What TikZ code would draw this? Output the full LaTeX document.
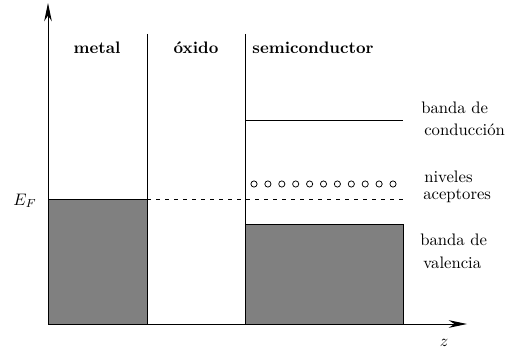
\documentclass[tikz,border=0pt]{standalone}
\usetikzlibrary{arrows.meta}
\begin{document}
\begin{tikzpicture}[x=0.6pt, y=-0.6pt,
  axis/.style={line width=0.6pt, -{Stealth[length=11pt, width=4.6pt, inset=3.5pt]}},
  wall/.style={line width=0.6pt},
  band/.style={line width=0.6pt, draw=black, fill=gray},
  level/.style={line width=0.6pt},
  fermi/.style={line width=0.6pt, dash pattern=on 2.6pt off 2.8pt},
  acceptor/.style={line width=0.45pt},
  region/.style={font=\bfseries},
  lbl/.style={anchor=west, inner sep=0pt}]
  \useasboundingbox (0,0) rectangle (518,352);

  % axes
  \coordinate (O) at (48,324);
  \coordinate (ytip) at (48,3);
  \coordinate (xtip) at (467,324);

  % metal: filled up to the Fermi level
  \fill[gray] (48,200) rectangle (147,324);
  \draw[line width=0.6pt] (48,200) -- (147,200);

  % interfaces metal/oxide and oxide/semiconductor
  \draw[wall] (147,34) -- (147,324);
  \draw[wall] (245,34) -- (245,324);

  % semiconductor bands
  \draw[band] (245,225) rectangle (403,324);
  \draw[level] (245,121) -- (403,121);

  % Fermi level across oxide and semiconductor
  \draw[fermi] (147,200) -- (403,200);

  % acceptor levels
  \foreach \i in {0,...,10}
    \draw[acceptor] ({254+13.9*\i},184) circle[radius=3.1];

  \draw[axis] (O) -- (ytip);
  \draw[axis] (O) -- (xtip);

  % region titles
  \node[region] (tmetal) at (97,48) {metal};
  \node[region] (toxido) at (196,48) {óxido};
  \node[region] (tsemi) at (313,48) {semiconductor};

  % axis labels
  \node (ef) at (25,201) {$E_F$};
  \node (z) at (444,343) {$z$};

  % band labels
  \node[lbl] (bc1) at (421,108) {banda de};
  \node[lbl] (bc2) at (424,130) {conducción};
  \node[lbl] (na1) at (424,177) {niveles};
  \node[lbl] (na2) at (423,196) {aceptores};
  \node[lbl] (bv1) at (420,240) {banda de};
  \node[lbl] (bv2) at (423,263) {valencia};
\end{tikzpicture}
\end{document}
